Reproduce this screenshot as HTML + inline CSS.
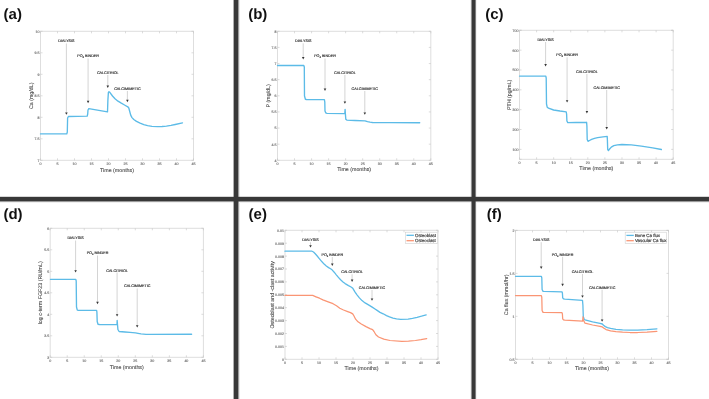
<!DOCTYPE html>
<html><head><meta charset="utf-8"><title>Figure</title>
<style>
html,body{margin:0;padding:0;background:#fff;width:709px;height:399px;overflow:hidden;}
svg{display:block;font-family:"Liberation Sans", sans-serif;will-change:transform;text-rendering:geometricPrecision;}
</style></head><body>
<svg width="709" height="399" viewBox="0 0 709 399" font-family="'Liberation Sans', sans-serif">
<rect x="0" y="0" width="709" height="399" fill="#ffffff"/>
<text x="3.6" y="18.9" font-size="15" text-anchor="start" fill="#111" font-weight="bold">(a)</text>
<rect x="40.5" y="31.3" width="153" height="129" fill="none" stroke="#dedede" stroke-width="1"/>
<line x1="40.5" y1="160.3" x2="40.5" y2="158.3" stroke="#c4c4c4" stroke-width="0.6"/>
<line x1="40.5" y1="31.3" x2="40.5" y2="33.3" stroke="#c4c4c4" stroke-width="0.6"/>
<text x="40.5" y="164.9" font-size="3.6" text-anchor="middle" fill="#7c7c7c" font-weight="normal" stroke="#7c7c7c" stroke-width="0.18">0</text>
<line x1="57.5" y1="160.3" x2="57.5" y2="158.3" stroke="#c4c4c4" stroke-width="0.6"/>
<line x1="57.5" y1="31.3" x2="57.5" y2="33.3" stroke="#c4c4c4" stroke-width="0.6"/>
<text x="57.5" y="164.9" font-size="3.6" text-anchor="middle" fill="#7c7c7c" font-weight="normal" stroke="#7c7c7c" stroke-width="0.18">5</text>
<line x1="74.5" y1="160.3" x2="74.5" y2="158.3" stroke="#c4c4c4" stroke-width="0.6"/>
<line x1="74.5" y1="31.3" x2="74.5" y2="33.3" stroke="#c4c4c4" stroke-width="0.6"/>
<text x="74.5" y="164.9" font-size="3.6" text-anchor="middle" fill="#7c7c7c" font-weight="normal" stroke="#7c7c7c" stroke-width="0.18">10</text>
<line x1="91.5" y1="160.3" x2="91.5" y2="158.3" stroke="#c4c4c4" stroke-width="0.6"/>
<line x1="91.5" y1="31.3" x2="91.5" y2="33.3" stroke="#c4c4c4" stroke-width="0.6"/>
<text x="91.5" y="164.9" font-size="3.6" text-anchor="middle" fill="#7c7c7c" font-weight="normal" stroke="#7c7c7c" stroke-width="0.18">15</text>
<line x1="108.5" y1="160.3" x2="108.5" y2="158.3" stroke="#c4c4c4" stroke-width="0.6"/>
<line x1="108.5" y1="31.3" x2="108.5" y2="33.3" stroke="#c4c4c4" stroke-width="0.6"/>
<text x="108.5" y="164.9" font-size="3.6" text-anchor="middle" fill="#7c7c7c" font-weight="normal" stroke="#7c7c7c" stroke-width="0.18">20</text>
<line x1="125.5" y1="160.3" x2="125.5" y2="158.3" stroke="#c4c4c4" stroke-width="0.6"/>
<line x1="125.5" y1="31.3" x2="125.5" y2="33.3" stroke="#c4c4c4" stroke-width="0.6"/>
<text x="125.5" y="164.9" font-size="3.6" text-anchor="middle" fill="#7c7c7c" font-weight="normal" stroke="#7c7c7c" stroke-width="0.18">25</text>
<line x1="142.5" y1="160.3" x2="142.5" y2="158.3" stroke="#c4c4c4" stroke-width="0.6"/>
<line x1="142.5" y1="31.3" x2="142.5" y2="33.3" stroke="#c4c4c4" stroke-width="0.6"/>
<text x="142.5" y="164.9" font-size="3.6" text-anchor="middle" fill="#7c7c7c" font-weight="normal" stroke="#7c7c7c" stroke-width="0.18">30</text>
<line x1="159.5" y1="160.3" x2="159.5" y2="158.3" stroke="#c4c4c4" stroke-width="0.6"/>
<line x1="159.5" y1="31.3" x2="159.5" y2="33.3" stroke="#c4c4c4" stroke-width="0.6"/>
<text x="159.5" y="164.9" font-size="3.6" text-anchor="middle" fill="#7c7c7c" font-weight="normal" stroke="#7c7c7c" stroke-width="0.18">35</text>
<line x1="176.5" y1="160.3" x2="176.5" y2="158.3" stroke="#c4c4c4" stroke-width="0.6"/>
<line x1="176.5" y1="31.3" x2="176.5" y2="33.3" stroke="#c4c4c4" stroke-width="0.6"/>
<text x="176.5" y="164.9" font-size="3.6" text-anchor="middle" fill="#7c7c7c" font-weight="normal" stroke="#7c7c7c" stroke-width="0.18">40</text>
<line x1="193.5" y1="160.3" x2="193.5" y2="158.3" stroke="#c4c4c4" stroke-width="0.6"/>
<line x1="193.5" y1="31.3" x2="193.5" y2="33.3" stroke="#c4c4c4" stroke-width="0.6"/>
<text x="193.5" y="164.9" font-size="3.6" text-anchor="middle" fill="#7c7c7c" font-weight="normal" stroke="#7c7c7c" stroke-width="0.18">45</text>
<line x1="40.5" y1="31.3" x2="42.5" y2="31.3" stroke="#c4c4c4" stroke-width="0.6"/>
<line x1="193.5" y1="31.3" x2="191.5" y2="31.3" stroke="#c4c4c4" stroke-width="0.6"/>
<text x="39.5" y="32.7" font-size="3.6" text-anchor="end" fill="#7c7c7c" font-weight="normal" stroke="#7c7c7c" stroke-width="0.18">10</text>
<line x1="40.5" y1="52.8" x2="42.5" y2="52.8" stroke="#c4c4c4" stroke-width="0.6"/>
<line x1="193.5" y1="52.8" x2="191.5" y2="52.8" stroke="#c4c4c4" stroke-width="0.6"/>
<text x="39.5" y="54.2" font-size="3.6" text-anchor="end" fill="#7c7c7c" font-weight="normal" stroke="#7c7c7c" stroke-width="0.18">9.5</text>
<line x1="40.5" y1="74.3" x2="42.5" y2="74.3" stroke="#c4c4c4" stroke-width="0.6"/>
<line x1="193.5" y1="74.3" x2="191.5" y2="74.3" stroke="#c4c4c4" stroke-width="0.6"/>
<text x="39.5" y="75.7" font-size="3.6" text-anchor="end" fill="#7c7c7c" font-weight="normal" stroke="#7c7c7c" stroke-width="0.18">9</text>
<line x1="40.5" y1="95.8" x2="42.5" y2="95.8" stroke="#c4c4c4" stroke-width="0.6"/>
<line x1="193.5" y1="95.8" x2="191.5" y2="95.8" stroke="#c4c4c4" stroke-width="0.6"/>
<text x="39.5" y="97.2" font-size="3.6" text-anchor="end" fill="#7c7c7c" font-weight="normal" stroke="#7c7c7c" stroke-width="0.18">8.5</text>
<line x1="40.5" y1="117.3" x2="42.5" y2="117.3" stroke="#c4c4c4" stroke-width="0.6"/>
<line x1="193.5" y1="117.3" x2="191.5" y2="117.3" stroke="#c4c4c4" stroke-width="0.6"/>
<text x="39.5" y="118.7" font-size="3.6" text-anchor="end" fill="#7c7c7c" font-weight="normal" stroke="#7c7c7c" stroke-width="0.18">8</text>
<line x1="40.5" y1="138.8" x2="42.5" y2="138.8" stroke="#c4c4c4" stroke-width="0.6"/>
<line x1="193.5" y1="138.8" x2="191.5" y2="138.8" stroke="#c4c4c4" stroke-width="0.6"/>
<text x="39.5" y="140.2" font-size="3.6" text-anchor="end" fill="#7c7c7c" font-weight="normal" stroke="#7c7c7c" stroke-width="0.18">7.5</text>
<line x1="40.5" y1="160.3" x2="42.5" y2="160.3" stroke="#c4c4c4" stroke-width="0.6"/>
<line x1="193.5" y1="160.3" x2="191.5" y2="160.3" stroke="#c4c4c4" stroke-width="0.6"/>
<text x="39.5" y="161.7" font-size="3.6" text-anchor="end" fill="#7c7c7c" font-weight="normal" stroke="#7c7c7c" stroke-width="0.18">7</text>
<text x="117" y="171.9" font-size="5.3" text-anchor="middle" fill="#404040" font-weight="normal" stroke="#404040" stroke-width="0.08">Time (months)</text>
<text x="33.2" y="95.8" font-size="5.3" text-anchor="middle" fill="#404040" font-weight="normal" transform="rotate(-90 33.2 95.8)" stroke="#404040" stroke-width="0.08">Ca (mg/dL)</text>
<polyline points="40.5,133.9 66.8,133.9 67.3,132 67.6,118 68.4,116.5 87.2,116.2 87.7,114 88,110 88.8,108.7 107.5,111.9 107.9,100 108.4,92.4 109,91.7 110,92.6 112.5,96 115,98.8 118,101.2 121.3,103.2 124.5,105 127.8,106.8 128.8,108 129.6,111 130.7,115.1 132,117.6 133.8,119.5 136.5,121.4 140.1,123.2 143.8,124.6 147.6,125.7 152,126.3 157.6,126.6 162,126.5 166.4,126.1 171,125.4 175.2,124.5 182.5,122.9" fill="none" stroke="#5cbbe7" stroke-width="1.35" stroke-linejoin="round" stroke-linecap="round"/>
<line x1="66.4" y1="43.5" x2="66.4" y2="113.2" stroke="#cfcfcf" stroke-width="0.9"/>
<polygon points="65.1,112.4 67.7,112.4 66.4,114.8" fill="#353535"/>
<text x="66.4" y="42.3" font-size="3.7" text-anchor="middle" fill="#3a3a3a" font-weight="normal" stroke="#3a3a3a" stroke-width="0.18">DIALYSIS</text>
<line x1="88.1" y1="58.5" x2="88.1" y2="101.6" stroke="#cfcfcf" stroke-width="0.9"/>
<polygon points="86.8,100.8 89.4,100.8 88.1,103.2" fill="#353535"/>
<text x="88.1" y="56.8" font-size="3.7" text-anchor="middle" fill="#3a3a3a" stroke="#3a3a3a" stroke-width="0.18">PO<tspan font-size="2.59" dy="1">4</tspan><tspan dy="-1"> BINDER</tspan></text>
<line x1="107.8" y1="75" x2="107.8" y2="86.4" stroke="#cfcfcf" stroke-width="0.9"/>
<polygon points="106.5,85.6 109.1,85.6 107.8,88" fill="#353535"/>
<text x="107.8" y="73.9" font-size="3.7" text-anchor="middle" fill="#3a3a3a" font-weight="normal" stroke="#3a3a3a" stroke-width="0.18">CALCITRIOL</text>
<line x1="127.4" y1="91" x2="127.4" y2="100.6" stroke="#cfcfcf" stroke-width="0.9"/>
<polygon points="126.1,99.8 128.7,99.8 127.4,102.2" fill="#353535"/>
<text x="127.4" y="89.5" font-size="3.7" text-anchor="middle" fill="#3a3a3a" font-weight="normal" stroke="#3a3a3a" stroke-width="0.18">CALCIMIMETIC</text>
<text x="248.2" y="18.9" font-size="15" text-anchor="start" fill="#111" font-weight="bold">(b)</text>
<rect x="277.5" y="31.3" width="153.3" height="129" fill="none" stroke="#dedede" stroke-width="1"/>
<line x1="277.5" y1="160.3" x2="277.5" y2="158.3" stroke="#c4c4c4" stroke-width="0.6"/>
<line x1="277.5" y1="31.3" x2="277.5" y2="33.3" stroke="#c4c4c4" stroke-width="0.6"/>
<text x="277.5" y="164.9" font-size="3.6" text-anchor="middle" fill="#7c7c7c" font-weight="normal" stroke="#7c7c7c" stroke-width="0.18">0</text>
<line x1="294.53" y1="160.3" x2="294.53" y2="158.3" stroke="#c4c4c4" stroke-width="0.6"/>
<line x1="294.53" y1="31.3" x2="294.53" y2="33.3" stroke="#c4c4c4" stroke-width="0.6"/>
<text x="294.53" y="164.9" font-size="3.6" text-anchor="middle" fill="#7c7c7c" font-weight="normal" stroke="#7c7c7c" stroke-width="0.18">5</text>
<line x1="311.57" y1="160.3" x2="311.57" y2="158.3" stroke="#c4c4c4" stroke-width="0.6"/>
<line x1="311.57" y1="31.3" x2="311.57" y2="33.3" stroke="#c4c4c4" stroke-width="0.6"/>
<text x="311.57" y="164.9" font-size="3.6" text-anchor="middle" fill="#7c7c7c" font-weight="normal" stroke="#7c7c7c" stroke-width="0.18">10</text>
<line x1="328.6" y1="160.3" x2="328.6" y2="158.3" stroke="#c4c4c4" stroke-width="0.6"/>
<line x1="328.6" y1="31.3" x2="328.6" y2="33.3" stroke="#c4c4c4" stroke-width="0.6"/>
<text x="328.6" y="164.9" font-size="3.6" text-anchor="middle" fill="#7c7c7c" font-weight="normal" stroke="#7c7c7c" stroke-width="0.18">15</text>
<line x1="345.63" y1="160.3" x2="345.63" y2="158.3" stroke="#c4c4c4" stroke-width="0.6"/>
<line x1="345.63" y1="31.3" x2="345.63" y2="33.3" stroke="#c4c4c4" stroke-width="0.6"/>
<text x="345.63" y="164.9" font-size="3.6" text-anchor="middle" fill="#7c7c7c" font-weight="normal" stroke="#7c7c7c" stroke-width="0.18">20</text>
<line x1="362.67" y1="160.3" x2="362.67" y2="158.3" stroke="#c4c4c4" stroke-width="0.6"/>
<line x1="362.67" y1="31.3" x2="362.67" y2="33.3" stroke="#c4c4c4" stroke-width="0.6"/>
<text x="362.67" y="164.9" font-size="3.6" text-anchor="middle" fill="#7c7c7c" font-weight="normal" stroke="#7c7c7c" stroke-width="0.18">25</text>
<line x1="379.7" y1="160.3" x2="379.7" y2="158.3" stroke="#c4c4c4" stroke-width="0.6"/>
<line x1="379.7" y1="31.3" x2="379.7" y2="33.3" stroke="#c4c4c4" stroke-width="0.6"/>
<text x="379.7" y="164.9" font-size="3.6" text-anchor="middle" fill="#7c7c7c" font-weight="normal" stroke="#7c7c7c" stroke-width="0.18">30</text>
<line x1="396.73" y1="160.3" x2="396.73" y2="158.3" stroke="#c4c4c4" stroke-width="0.6"/>
<line x1="396.73" y1="31.3" x2="396.73" y2="33.3" stroke="#c4c4c4" stroke-width="0.6"/>
<text x="396.73" y="164.9" font-size="3.6" text-anchor="middle" fill="#7c7c7c" font-weight="normal" stroke="#7c7c7c" stroke-width="0.18">35</text>
<line x1="413.77" y1="160.3" x2="413.77" y2="158.3" stroke="#c4c4c4" stroke-width="0.6"/>
<line x1="413.77" y1="31.3" x2="413.77" y2="33.3" stroke="#c4c4c4" stroke-width="0.6"/>
<text x="413.77" y="164.9" font-size="3.6" text-anchor="middle" fill="#7c7c7c" font-weight="normal" stroke="#7c7c7c" stroke-width="0.18">40</text>
<line x1="430.8" y1="160.3" x2="430.8" y2="158.3" stroke="#c4c4c4" stroke-width="0.6"/>
<line x1="430.8" y1="31.3" x2="430.8" y2="33.3" stroke="#c4c4c4" stroke-width="0.6"/>
<text x="430.8" y="164.9" font-size="3.6" text-anchor="middle" fill="#7c7c7c" font-weight="normal" stroke="#7c7c7c" stroke-width="0.18">45</text>
<line x1="277.5" y1="31.3" x2="279.5" y2="31.3" stroke="#c4c4c4" stroke-width="0.6"/>
<line x1="430.8" y1="31.3" x2="428.8" y2="31.3" stroke="#c4c4c4" stroke-width="0.6"/>
<text x="276.5" y="32.7" font-size="3.6" text-anchor="end" fill="#7c7c7c" font-weight="normal" stroke="#7c7c7c" stroke-width="0.18">8</text>
<line x1="277.5" y1="47.42" x2="279.5" y2="47.42" stroke="#c4c4c4" stroke-width="0.6"/>
<line x1="430.8" y1="47.42" x2="428.8" y2="47.42" stroke="#c4c4c4" stroke-width="0.6"/>
<text x="276.5" y="48.82" font-size="3.6" text-anchor="end" fill="#7c7c7c" font-weight="normal" stroke="#7c7c7c" stroke-width="0.18">7.5</text>
<line x1="277.5" y1="63.55" x2="279.5" y2="63.55" stroke="#c4c4c4" stroke-width="0.6"/>
<line x1="430.8" y1="63.55" x2="428.8" y2="63.55" stroke="#c4c4c4" stroke-width="0.6"/>
<text x="276.5" y="64.95" font-size="3.6" text-anchor="end" fill="#7c7c7c" font-weight="normal" stroke="#7c7c7c" stroke-width="0.18">7</text>
<line x1="277.5" y1="79.67" x2="279.5" y2="79.67" stroke="#c4c4c4" stroke-width="0.6"/>
<line x1="430.8" y1="79.67" x2="428.8" y2="79.67" stroke="#c4c4c4" stroke-width="0.6"/>
<text x="276.5" y="81.08" font-size="3.6" text-anchor="end" fill="#7c7c7c" font-weight="normal" stroke="#7c7c7c" stroke-width="0.18">6.5</text>
<line x1="277.5" y1="95.8" x2="279.5" y2="95.8" stroke="#c4c4c4" stroke-width="0.6"/>
<line x1="430.8" y1="95.8" x2="428.8" y2="95.8" stroke="#c4c4c4" stroke-width="0.6"/>
<text x="276.5" y="97.2" font-size="3.6" text-anchor="end" fill="#7c7c7c" font-weight="normal" stroke="#7c7c7c" stroke-width="0.18">6</text>
<line x1="277.5" y1="111.92" x2="279.5" y2="111.92" stroke="#c4c4c4" stroke-width="0.6"/>
<line x1="430.8" y1="111.92" x2="428.8" y2="111.92" stroke="#c4c4c4" stroke-width="0.6"/>
<text x="276.5" y="113.33" font-size="3.6" text-anchor="end" fill="#7c7c7c" font-weight="normal" stroke="#7c7c7c" stroke-width="0.18">5.5</text>
<line x1="277.5" y1="128.05" x2="279.5" y2="128.05" stroke="#c4c4c4" stroke-width="0.6"/>
<line x1="430.8" y1="128.05" x2="428.8" y2="128.05" stroke="#c4c4c4" stroke-width="0.6"/>
<text x="276.5" y="129.45" font-size="3.6" text-anchor="end" fill="#7c7c7c" font-weight="normal" stroke="#7c7c7c" stroke-width="0.18">5</text>
<line x1="277.5" y1="144.18" x2="279.5" y2="144.18" stroke="#c4c4c4" stroke-width="0.6"/>
<line x1="430.8" y1="144.18" x2="428.8" y2="144.18" stroke="#c4c4c4" stroke-width="0.6"/>
<text x="276.5" y="145.58" font-size="3.6" text-anchor="end" fill="#7c7c7c" font-weight="normal" stroke="#7c7c7c" stroke-width="0.18">4.5</text>
<line x1="277.5" y1="160.3" x2="279.5" y2="160.3" stroke="#c4c4c4" stroke-width="0.6"/>
<line x1="430.8" y1="160.3" x2="428.8" y2="160.3" stroke="#c4c4c4" stroke-width="0.6"/>
<text x="276.5" y="161.7" font-size="3.6" text-anchor="end" fill="#7c7c7c" font-weight="normal" stroke="#7c7c7c" stroke-width="0.18">4</text>
<text x="354.15" y="170.7" font-size="5.3" text-anchor="middle" fill="#404040" font-weight="normal" stroke="#404040" stroke-width="0.08">Time (months)</text>
<text x="270" y="95.8" font-size="5.3" text-anchor="middle" fill="#404040" font-weight="normal" transform="rotate(-90 270 95.8)" stroke="#404040" stroke-width="0.08">P (mg/dL)</text>
<polyline points="277.5,65.5 303.8,65.5 304.3,67 304.5,96 305.4,99.3 306.5,99.5 324.4,99.6 324.8,102 325,111 325.8,112.9 327,113.3 344.8,113.6 345.1,109.4 345.4,114 345.8,119.2 346.8,120.1 355,120.5 365,120.9 367.5,121.7 370,122.2 372.5,122.5 390,122.7 419.7,122.7" fill="none" stroke="#5cbbe7" stroke-width="1.35" stroke-linejoin="round" stroke-linecap="round"/>
<line x1="303.2" y1="43.3" x2="303.2" y2="57.9" stroke="#cfcfcf" stroke-width="0.9"/>
<polygon points="301.9,57.1 304.5,57.1 303.2,59.5" fill="#353535"/>
<text x="303.2" y="42.3" font-size="3.7" text-anchor="middle" fill="#3a3a3a" font-weight="normal" stroke="#3a3a3a" stroke-width="0.18">DIALYSIS</text>
<line x1="325" y1="58.5" x2="325" y2="89.4" stroke="#cfcfcf" stroke-width="0.9"/>
<polygon points="323.7,88.6 326.3,88.6 325,91" fill="#353535"/>
<text x="325" y="56.8" font-size="3.7" text-anchor="middle" fill="#3a3a3a" stroke="#3a3a3a" stroke-width="0.18">PO<tspan font-size="2.59" dy="1">4</tspan><tspan dy="-1"> BINDER</tspan></text>
<line x1="344.9" y1="75" x2="344.9" y2="102.2" stroke="#cfcfcf" stroke-width="0.9"/>
<polygon points="343.6,101.4 346.2,101.4 344.9,103.8" fill="#353535"/>
<text x="344.9" y="73.8" font-size="3.7" text-anchor="middle" fill="#3a3a3a" font-weight="normal" stroke="#3a3a3a" stroke-width="0.18">CALCITRIOL</text>
<line x1="364.8" y1="91" x2="364.8" y2="113.2" stroke="#cfcfcf" stroke-width="0.9"/>
<polygon points="363.5,112.4 366.1,112.4 364.8,114.8" fill="#353535"/>
<text x="364.8" y="89.9" font-size="3.7" text-anchor="middle" fill="#3a3a3a" font-weight="normal" stroke="#3a3a3a" stroke-width="0.18">CALCIMIMETIC</text>
<text x="485.2" y="18.9" font-size="15" text-anchor="start" fill="#111" font-weight="bold">(c)</text>
<rect x="519.5" y="30.3" width="153.7" height="129" fill="none" stroke="#dedede" stroke-width="1"/>
<line x1="519.5" y1="159.3" x2="519.5" y2="157.3" stroke="#c4c4c4" stroke-width="0.6"/>
<line x1="519.5" y1="30.3" x2="519.5" y2="32.3" stroke="#c4c4c4" stroke-width="0.6"/>
<text x="519.5" y="163.9" font-size="3.6" text-anchor="middle" fill="#7c7c7c" font-weight="normal" stroke="#7c7c7c" stroke-width="0.18">0</text>
<line x1="536.58" y1="159.3" x2="536.58" y2="157.3" stroke="#c4c4c4" stroke-width="0.6"/>
<line x1="536.58" y1="30.3" x2="536.58" y2="32.3" stroke="#c4c4c4" stroke-width="0.6"/>
<text x="536.58" y="163.9" font-size="3.6" text-anchor="middle" fill="#7c7c7c" font-weight="normal" stroke="#7c7c7c" stroke-width="0.18">5</text>
<line x1="553.66" y1="159.3" x2="553.66" y2="157.3" stroke="#c4c4c4" stroke-width="0.6"/>
<line x1="553.66" y1="30.3" x2="553.66" y2="32.3" stroke="#c4c4c4" stroke-width="0.6"/>
<text x="553.66" y="163.9" font-size="3.6" text-anchor="middle" fill="#7c7c7c" font-weight="normal" stroke="#7c7c7c" stroke-width="0.18">10</text>
<line x1="570.73" y1="159.3" x2="570.73" y2="157.3" stroke="#c4c4c4" stroke-width="0.6"/>
<line x1="570.73" y1="30.3" x2="570.73" y2="32.3" stroke="#c4c4c4" stroke-width="0.6"/>
<text x="570.73" y="163.9" font-size="3.6" text-anchor="middle" fill="#7c7c7c" font-weight="normal" stroke="#7c7c7c" stroke-width="0.18">15</text>
<line x1="587.81" y1="159.3" x2="587.81" y2="157.3" stroke="#c4c4c4" stroke-width="0.6"/>
<line x1="587.81" y1="30.3" x2="587.81" y2="32.3" stroke="#c4c4c4" stroke-width="0.6"/>
<text x="587.81" y="163.9" font-size="3.6" text-anchor="middle" fill="#7c7c7c" font-weight="normal" stroke="#7c7c7c" stroke-width="0.18">20</text>
<line x1="604.89" y1="159.3" x2="604.89" y2="157.3" stroke="#c4c4c4" stroke-width="0.6"/>
<line x1="604.89" y1="30.3" x2="604.89" y2="32.3" stroke="#c4c4c4" stroke-width="0.6"/>
<text x="604.89" y="163.9" font-size="3.6" text-anchor="middle" fill="#7c7c7c" font-weight="normal" stroke="#7c7c7c" stroke-width="0.18">25</text>
<line x1="621.97" y1="159.3" x2="621.97" y2="157.3" stroke="#c4c4c4" stroke-width="0.6"/>
<line x1="621.97" y1="30.3" x2="621.97" y2="32.3" stroke="#c4c4c4" stroke-width="0.6"/>
<text x="621.97" y="163.9" font-size="3.6" text-anchor="middle" fill="#7c7c7c" font-weight="normal" stroke="#7c7c7c" stroke-width="0.18">30</text>
<line x1="639.04" y1="159.3" x2="639.04" y2="157.3" stroke="#c4c4c4" stroke-width="0.6"/>
<line x1="639.04" y1="30.3" x2="639.04" y2="32.3" stroke="#c4c4c4" stroke-width="0.6"/>
<text x="639.04" y="163.9" font-size="3.6" text-anchor="middle" fill="#7c7c7c" font-weight="normal" stroke="#7c7c7c" stroke-width="0.18">35</text>
<line x1="656.12" y1="159.3" x2="656.12" y2="157.3" stroke="#c4c4c4" stroke-width="0.6"/>
<line x1="656.12" y1="30.3" x2="656.12" y2="32.3" stroke="#c4c4c4" stroke-width="0.6"/>
<text x="656.12" y="163.9" font-size="3.6" text-anchor="middle" fill="#7c7c7c" font-weight="normal" stroke="#7c7c7c" stroke-width="0.18">40</text>
<line x1="673.2" y1="159.3" x2="673.2" y2="157.3" stroke="#c4c4c4" stroke-width="0.6"/>
<line x1="673.2" y1="30.3" x2="673.2" y2="32.3" stroke="#c4c4c4" stroke-width="0.6"/>
<text x="673.2" y="163.9" font-size="3.6" text-anchor="middle" fill="#7c7c7c" font-weight="normal" stroke="#7c7c7c" stroke-width="0.18">45</text>
<line x1="519.5" y1="30.3" x2="521.5" y2="30.3" stroke="#c4c4c4" stroke-width="0.6"/>
<line x1="673.2" y1="30.3" x2="671.2" y2="30.3" stroke="#c4c4c4" stroke-width="0.6"/>
<text x="518.5" y="31.7" font-size="3.6" text-anchor="end" fill="#7c7c7c" font-weight="normal" stroke="#7c7c7c" stroke-width="0.18"></text>
<line x1="519.5" y1="159.3" x2="521.5" y2="159.3" stroke="#c4c4c4" stroke-width="0.6"/>
<line x1="673.2" y1="159.3" x2="671.2" y2="159.3" stroke="#c4c4c4" stroke-width="0.6"/>
<text x="518.5" y="160.7" font-size="3.6" text-anchor="end" fill="#7c7c7c" font-weight="normal" stroke="#7c7c7c" stroke-width="0.18"></text>
<text x="596.35" y="170" font-size="5.3" text-anchor="middle" fill="#404040" font-weight="normal" stroke="#404040" stroke-width="0.08">Time (months)</text>
<text x="510.8" y="94.8" font-size="5.3" text-anchor="middle" fill="#404040" font-weight="normal" transform="rotate(-90 510.8 94.8)" stroke="#404040" stroke-width="0.08">PTH (pg/mL)</text>
<polyline points="519.5,76.1 545.8,76.1 546.2,78 546.5,104 547.2,107.2 548.5,108.1 553.6,110 560,111 566.2,111.8 566.6,114 566.9,121 567.8,122.6 576,122.5 586.6,122.3 586.9,126 587.2,139.5 588,141.3 589.5,140.5 591.6,139.4 594.5,138.4 597.6,137.6 603,136.8 607.2,136.4 607.4,140 607.7,149.5 608.4,150.6 609.6,149 611.3,147.1 613.8,145.7 617.5,144.9 621.9,144.5 631.3,144.8 641.4,146.1 652.7,147.8 661.4,149.5" fill="none" stroke="#5cbbe7" stroke-width="1.35" stroke-linejoin="round" stroke-linecap="round"/>
<line x1="545.6" y1="42" x2="545.6" y2="64.9" stroke="#cfcfcf" stroke-width="0.9"/>
<polygon points="544.3,64.1 546.9,64.1 545.6,66.5" fill="#353535"/>
<text x="545.6" y="41.1" font-size="3.7" text-anchor="middle" fill="#3a3a3a" font-weight="normal" stroke="#3a3a3a" stroke-width="0.18">DIALYSIS</text>
<line x1="567.1" y1="57.3" x2="567.1" y2="101" stroke="#cfcfcf" stroke-width="0.9"/>
<polygon points="565.8,100.2 568.4,100.2 567.1,102.6" fill="#353535"/>
<text x="567.1" y="55.6" font-size="3.7" text-anchor="middle" fill="#3a3a3a" stroke="#3a3a3a" stroke-width="0.18">PO<tspan font-size="2.59" dy="1">4</tspan><tspan dy="-1"> BINDER</tspan></text>
<line x1="586.9" y1="74" x2="586.9" y2="111.9" stroke="#cfcfcf" stroke-width="0.9"/>
<polygon points="585.6,111.1 588.2,111.1 586.9,113.5" fill="#353535"/>
<text x="586.9" y="72.9" font-size="3.7" text-anchor="middle" fill="#3a3a3a" font-weight="normal" stroke="#3a3a3a" stroke-width="0.18">CALCITRIOL</text>
<line x1="606.7" y1="90" x2="606.7" y2="127.8" stroke="#cfcfcf" stroke-width="0.9"/>
<polygon points="605.4,127 608,127 606.7,129.4" fill="#353535"/>
<text x="606.7" y="88.5" font-size="3.7" text-anchor="middle" fill="#3a3a3a" font-weight="normal" stroke="#3a3a3a" stroke-width="0.18">CALCIMIMETIC</text>
<line x1="519.5" y1="30.3" x2="521.5" y2="30.3" stroke="#c4c4c4" stroke-width="0.6"/>
<line x1="673.2" y1="30.3" x2="671.2" y2="30.3" stroke="#c4c4c4" stroke-width="0.6"/>
<text x="518.5" y="31.7" font-size="3.6" text-anchor="end" fill="#7c7c7c" font-weight="normal" stroke="#7c7c7c" stroke-width="0.18">700</text>
<line x1="519.5" y1="50.15" x2="521.5" y2="50.15" stroke="#c4c4c4" stroke-width="0.6"/>
<line x1="673.2" y1="50.15" x2="671.2" y2="50.15" stroke="#c4c4c4" stroke-width="0.6"/>
<text x="518.5" y="51.55" font-size="3.6" text-anchor="end" fill="#7c7c7c" font-weight="normal" stroke="#7c7c7c" stroke-width="0.18">600</text>
<line x1="519.5" y1="69.99" x2="521.5" y2="69.99" stroke="#c4c4c4" stroke-width="0.6"/>
<line x1="673.2" y1="69.99" x2="671.2" y2="69.99" stroke="#c4c4c4" stroke-width="0.6"/>
<text x="518.5" y="71.39" font-size="3.6" text-anchor="end" fill="#7c7c7c" font-weight="normal" stroke="#7c7c7c" stroke-width="0.18">500</text>
<line x1="519.5" y1="89.84" x2="521.5" y2="89.84" stroke="#c4c4c4" stroke-width="0.6"/>
<line x1="673.2" y1="89.84" x2="671.2" y2="89.84" stroke="#c4c4c4" stroke-width="0.6"/>
<text x="518.5" y="91.24" font-size="3.6" text-anchor="end" fill="#7c7c7c" font-weight="normal" stroke="#7c7c7c" stroke-width="0.18">400</text>
<line x1="519.5" y1="109.68" x2="521.5" y2="109.68" stroke="#c4c4c4" stroke-width="0.6"/>
<line x1="673.2" y1="109.68" x2="671.2" y2="109.68" stroke="#c4c4c4" stroke-width="0.6"/>
<text x="518.5" y="111.08" font-size="3.6" text-anchor="end" fill="#7c7c7c" font-weight="normal" stroke="#7c7c7c" stroke-width="0.18">300</text>
<line x1="519.5" y1="129.53" x2="521.5" y2="129.53" stroke="#c4c4c4" stroke-width="0.6"/>
<line x1="673.2" y1="129.53" x2="671.2" y2="129.53" stroke="#c4c4c4" stroke-width="0.6"/>
<text x="518.5" y="130.93" font-size="3.6" text-anchor="end" fill="#7c7c7c" font-weight="normal" stroke="#7c7c7c" stroke-width="0.18">200</text>
<line x1="519.5" y1="149.38" x2="521.5" y2="149.38" stroke="#c4c4c4" stroke-width="0.6"/>
<line x1="673.2" y1="149.38" x2="671.2" y2="149.38" stroke="#c4c4c4" stroke-width="0.6"/>
<text x="518.5" y="150.78" font-size="3.6" text-anchor="end" fill="#7c7c7c" font-weight="normal" stroke="#7c7c7c" stroke-width="0.18">100</text>
<text x="3.4" y="218.9" font-size="15" text-anchor="start" fill="#111" font-weight="bold">(d)</text>
<rect x="50.2" y="228.3" width="153.2" height="129" fill="none" stroke="#dedede" stroke-width="1"/>
<line x1="50.2" y1="357.3" x2="50.2" y2="355.3" stroke="#c4c4c4" stroke-width="0.6"/>
<line x1="50.2" y1="228.3" x2="50.2" y2="230.3" stroke="#c4c4c4" stroke-width="0.6"/>
<text x="50.2" y="361.9" font-size="3.6" text-anchor="middle" fill="#7c7c7c" font-weight="normal" stroke="#7c7c7c" stroke-width="0.18">0</text>
<line x1="67.22" y1="357.3" x2="67.22" y2="355.3" stroke="#c4c4c4" stroke-width="0.6"/>
<line x1="67.22" y1="228.3" x2="67.22" y2="230.3" stroke="#c4c4c4" stroke-width="0.6"/>
<text x="67.22" y="361.9" font-size="3.6" text-anchor="middle" fill="#7c7c7c" font-weight="normal" stroke="#7c7c7c" stroke-width="0.18">5</text>
<line x1="84.24" y1="357.3" x2="84.24" y2="355.3" stroke="#c4c4c4" stroke-width="0.6"/>
<line x1="84.24" y1="228.3" x2="84.24" y2="230.3" stroke="#c4c4c4" stroke-width="0.6"/>
<text x="84.24" y="361.9" font-size="3.6" text-anchor="middle" fill="#7c7c7c" font-weight="normal" stroke="#7c7c7c" stroke-width="0.18">10</text>
<line x1="101.27" y1="357.3" x2="101.27" y2="355.3" stroke="#c4c4c4" stroke-width="0.6"/>
<line x1="101.27" y1="228.3" x2="101.27" y2="230.3" stroke="#c4c4c4" stroke-width="0.6"/>
<text x="101.27" y="361.9" font-size="3.6" text-anchor="middle" fill="#7c7c7c" font-weight="normal" stroke="#7c7c7c" stroke-width="0.18">15</text>
<line x1="118.29" y1="357.3" x2="118.29" y2="355.3" stroke="#c4c4c4" stroke-width="0.6"/>
<line x1="118.29" y1="228.3" x2="118.29" y2="230.3" stroke="#c4c4c4" stroke-width="0.6"/>
<text x="118.29" y="361.9" font-size="3.6" text-anchor="middle" fill="#7c7c7c" font-weight="normal" stroke="#7c7c7c" stroke-width="0.18">20</text>
<line x1="135.31" y1="357.3" x2="135.31" y2="355.3" stroke="#c4c4c4" stroke-width="0.6"/>
<line x1="135.31" y1="228.3" x2="135.31" y2="230.3" stroke="#c4c4c4" stroke-width="0.6"/>
<text x="135.31" y="361.9" font-size="3.6" text-anchor="middle" fill="#7c7c7c" font-weight="normal" stroke="#7c7c7c" stroke-width="0.18">25</text>
<line x1="152.33" y1="357.3" x2="152.33" y2="355.3" stroke="#c4c4c4" stroke-width="0.6"/>
<line x1="152.33" y1="228.3" x2="152.33" y2="230.3" stroke="#c4c4c4" stroke-width="0.6"/>
<text x="152.33" y="361.9" font-size="3.6" text-anchor="middle" fill="#7c7c7c" font-weight="normal" stroke="#7c7c7c" stroke-width="0.18">30</text>
<line x1="169.36" y1="357.3" x2="169.36" y2="355.3" stroke="#c4c4c4" stroke-width="0.6"/>
<line x1="169.36" y1="228.3" x2="169.36" y2="230.3" stroke="#c4c4c4" stroke-width="0.6"/>
<text x="169.36" y="361.9" font-size="3.6" text-anchor="middle" fill="#7c7c7c" font-weight="normal" stroke="#7c7c7c" stroke-width="0.18">35</text>
<line x1="186.38" y1="357.3" x2="186.38" y2="355.3" stroke="#c4c4c4" stroke-width="0.6"/>
<line x1="186.38" y1="228.3" x2="186.38" y2="230.3" stroke="#c4c4c4" stroke-width="0.6"/>
<text x="186.38" y="361.9" font-size="3.6" text-anchor="middle" fill="#7c7c7c" font-weight="normal" stroke="#7c7c7c" stroke-width="0.18">40</text>
<line x1="203.4" y1="357.3" x2="203.4" y2="355.3" stroke="#c4c4c4" stroke-width="0.6"/>
<line x1="203.4" y1="228.3" x2="203.4" y2="230.3" stroke="#c4c4c4" stroke-width="0.6"/>
<text x="203.4" y="361.9" font-size="3.6" text-anchor="middle" fill="#7c7c7c" font-weight="normal" stroke="#7c7c7c" stroke-width="0.18">45</text>
<line x1="50.2" y1="228.3" x2="52.2" y2="228.3" stroke="#c4c4c4" stroke-width="0.6"/>
<line x1="203.4" y1="228.3" x2="201.4" y2="228.3" stroke="#c4c4c4" stroke-width="0.6"/>
<text x="49.2" y="229.7" font-size="3.6" text-anchor="end" fill="#7c7c7c" font-weight="normal" stroke="#7c7c7c" stroke-width="0.18">6</text>
<line x1="50.2" y1="249.8" x2="52.2" y2="249.8" stroke="#c4c4c4" stroke-width="0.6"/>
<line x1="203.4" y1="249.8" x2="201.4" y2="249.8" stroke="#c4c4c4" stroke-width="0.6"/>
<text x="49.2" y="251.2" font-size="3.6" text-anchor="end" fill="#7c7c7c" font-weight="normal" stroke="#7c7c7c" stroke-width="0.18">5.5</text>
<line x1="50.2" y1="271.3" x2="52.2" y2="271.3" stroke="#c4c4c4" stroke-width="0.6"/>
<line x1="203.4" y1="271.3" x2="201.4" y2="271.3" stroke="#c4c4c4" stroke-width="0.6"/>
<text x="49.2" y="272.7" font-size="3.6" text-anchor="end" fill="#7c7c7c" font-weight="normal" stroke="#7c7c7c" stroke-width="0.18">5</text>
<line x1="50.2" y1="292.8" x2="52.2" y2="292.8" stroke="#c4c4c4" stroke-width="0.6"/>
<line x1="203.4" y1="292.8" x2="201.4" y2="292.8" stroke="#c4c4c4" stroke-width="0.6"/>
<text x="49.2" y="294.2" font-size="3.6" text-anchor="end" fill="#7c7c7c" font-weight="normal" stroke="#7c7c7c" stroke-width="0.18">4.5</text>
<line x1="50.2" y1="314.3" x2="52.2" y2="314.3" stroke="#c4c4c4" stroke-width="0.6"/>
<line x1="203.4" y1="314.3" x2="201.4" y2="314.3" stroke="#c4c4c4" stroke-width="0.6"/>
<text x="49.2" y="315.7" font-size="3.6" text-anchor="end" fill="#7c7c7c" font-weight="normal" stroke="#7c7c7c" stroke-width="0.18">4</text>
<line x1="50.2" y1="335.8" x2="52.2" y2="335.8" stroke="#c4c4c4" stroke-width="0.6"/>
<line x1="203.4" y1="335.8" x2="201.4" y2="335.8" stroke="#c4c4c4" stroke-width="0.6"/>
<text x="49.2" y="337.2" font-size="3.6" text-anchor="end" fill="#7c7c7c" font-weight="normal" stroke="#7c7c7c" stroke-width="0.18">3.5</text>
<line x1="50.2" y1="357.3" x2="52.2" y2="357.3" stroke="#c4c4c4" stroke-width="0.6"/>
<line x1="203.4" y1="357.3" x2="201.4" y2="357.3" stroke="#c4c4c4" stroke-width="0.6"/>
<text x="49.2" y="358.7" font-size="3.6" text-anchor="end" fill="#7c7c7c" font-weight="normal" stroke="#7c7c7c" stroke-width="0.18">3</text>
<text x="126.8" y="368.6" font-size="5.3" text-anchor="middle" fill="#404040" font-weight="normal" stroke="#404040" stroke-width="0.08">Time (months)</text>
<text x="42.3" y="292.8" font-size="5.3" text-anchor="middle" fill="#404040" font-weight="normal" transform="rotate(-90 42.3 292.8)" stroke="#404040" stroke-width="0.08">log c-term FGF23 (RU/mL)</text>
<polyline points="50.5,279.4 75.8,279.4 76.2,281 76.5,307 77.3,310.2 78.5,310.4 96.6,310.4 96.9,312 97.2,321.5 98,324.3 99.5,324.5 117,324.7 117.15,320.4 117.4,323.5 117.9,329.5 119.1,331.5 125,332 130,332.4 135.5,332.8 138,333.3 141,333.9 146,334.3 150,334.4 191.6,334.2" fill="none" stroke="#5cbbe7" stroke-width="1.35" stroke-linejoin="round" stroke-linecap="round"/>
<line x1="75.6" y1="240.5" x2="75.6" y2="271" stroke="#cfcfcf" stroke-width="0.9"/>
<polygon points="74.3,270.2 76.9,270.2 75.6,272.6" fill="#353535"/>
<text x="75.6" y="239.3" font-size="3.7" text-anchor="middle" fill="#3a3a3a" font-weight="normal" stroke="#3a3a3a" stroke-width="0.18">DIALYSIS</text>
<line x1="97.5" y1="255.5" x2="97.5" y2="302.6" stroke="#cfcfcf" stroke-width="0.9"/>
<polygon points="96.2,301.8 98.8,301.8 97.5,304.2" fill="#353535"/>
<text x="97.5" y="254.1" font-size="3.7" text-anchor="middle" fill="#3a3a3a" stroke="#3a3a3a" stroke-width="0.18">PO<tspan font-size="2.59" dy="1">4</tspan><tspan dy="-1"> BINDER</tspan></text>
<line x1="117.1" y1="272.5" x2="117.1" y2="315" stroke="#cfcfcf" stroke-width="0.9"/>
<polygon points="115.8,314.2 118.4,314.2 117.1,316.6" fill="#353535"/>
<text x="117.1" y="271.5" font-size="3.7" text-anchor="middle" fill="#3a3a3a" font-weight="normal" stroke="#3a3a3a" stroke-width="0.18">CALCITRIOL</text>
<line x1="137.2" y1="288.5" x2="137.2" y2="326" stroke="#cfcfcf" stroke-width="0.9"/>
<polygon points="135.9,325.2 138.5,325.2 137.2,327.6" fill="#353535"/>
<text x="137.2" y="287.2" font-size="3.7" text-anchor="middle" fill="#3a3a3a" font-weight="normal" stroke="#3a3a3a" stroke-width="0.18">CALCIMIMETIC</text>
<text x="248.6" y="218.9" font-size="15" text-anchor="start" fill="#111" font-weight="bold">(e)</text>
<rect x="285" y="230.3" width="153" height="129" fill="none" stroke="#dedede" stroke-width="1"/>
<line x1="285" y1="359.3" x2="285" y2="357.3" stroke="#c4c4c4" stroke-width="0.6"/>
<line x1="285" y1="230.3" x2="285" y2="232.3" stroke="#c4c4c4" stroke-width="0.6"/>
<text x="285" y="363.9" font-size="3.6" text-anchor="middle" fill="#7c7c7c" font-weight="normal" stroke="#7c7c7c" stroke-width="0.18">0</text>
<line x1="302" y1="359.3" x2="302" y2="357.3" stroke="#c4c4c4" stroke-width="0.6"/>
<line x1="302" y1="230.3" x2="302" y2="232.3" stroke="#c4c4c4" stroke-width="0.6"/>
<text x="302" y="363.9" font-size="3.6" text-anchor="middle" fill="#7c7c7c" font-weight="normal" stroke="#7c7c7c" stroke-width="0.18">5</text>
<line x1="319" y1="359.3" x2="319" y2="357.3" stroke="#c4c4c4" stroke-width="0.6"/>
<line x1="319" y1="230.3" x2="319" y2="232.3" stroke="#c4c4c4" stroke-width="0.6"/>
<text x="319" y="363.9" font-size="3.6" text-anchor="middle" fill="#7c7c7c" font-weight="normal" stroke="#7c7c7c" stroke-width="0.18">10</text>
<line x1="336" y1="359.3" x2="336" y2="357.3" stroke="#c4c4c4" stroke-width="0.6"/>
<line x1="336" y1="230.3" x2="336" y2="232.3" stroke="#c4c4c4" stroke-width="0.6"/>
<text x="336" y="363.9" font-size="3.6" text-anchor="middle" fill="#7c7c7c" font-weight="normal" stroke="#7c7c7c" stroke-width="0.18">15</text>
<line x1="353" y1="359.3" x2="353" y2="357.3" stroke="#c4c4c4" stroke-width="0.6"/>
<line x1="353" y1="230.3" x2="353" y2="232.3" stroke="#c4c4c4" stroke-width="0.6"/>
<text x="353" y="363.9" font-size="3.6" text-anchor="middle" fill="#7c7c7c" font-weight="normal" stroke="#7c7c7c" stroke-width="0.18">20</text>
<line x1="370" y1="359.3" x2="370" y2="357.3" stroke="#c4c4c4" stroke-width="0.6"/>
<line x1="370" y1="230.3" x2="370" y2="232.3" stroke="#c4c4c4" stroke-width="0.6"/>
<text x="370" y="363.9" font-size="3.6" text-anchor="middle" fill="#7c7c7c" font-weight="normal" stroke="#7c7c7c" stroke-width="0.18">25</text>
<line x1="387" y1="359.3" x2="387" y2="357.3" stroke="#c4c4c4" stroke-width="0.6"/>
<line x1="387" y1="230.3" x2="387" y2="232.3" stroke="#c4c4c4" stroke-width="0.6"/>
<text x="387" y="363.9" font-size="3.6" text-anchor="middle" fill="#7c7c7c" font-weight="normal" stroke="#7c7c7c" stroke-width="0.18">30</text>
<line x1="404" y1="359.3" x2="404" y2="357.3" stroke="#c4c4c4" stroke-width="0.6"/>
<line x1="404" y1="230.3" x2="404" y2="232.3" stroke="#c4c4c4" stroke-width="0.6"/>
<text x="404" y="363.9" font-size="3.6" text-anchor="middle" fill="#7c7c7c" font-weight="normal" stroke="#7c7c7c" stroke-width="0.18">35</text>
<line x1="421" y1="359.3" x2="421" y2="357.3" stroke="#c4c4c4" stroke-width="0.6"/>
<line x1="421" y1="230.3" x2="421" y2="232.3" stroke="#c4c4c4" stroke-width="0.6"/>
<text x="421" y="363.9" font-size="3.6" text-anchor="middle" fill="#7c7c7c" font-weight="normal" stroke="#7c7c7c" stroke-width="0.18">40</text>
<line x1="438" y1="359.3" x2="438" y2="357.3" stroke="#c4c4c4" stroke-width="0.6"/>
<line x1="438" y1="230.3" x2="438" y2="232.3" stroke="#c4c4c4" stroke-width="0.6"/>
<text x="438" y="363.9" font-size="3.6" text-anchor="middle" fill="#7c7c7c" font-weight="normal" stroke="#7c7c7c" stroke-width="0.18">45</text>
<line x1="285" y1="230.3" x2="287" y2="230.3" stroke="#c4c4c4" stroke-width="0.6"/>
<line x1="438" y1="230.3" x2="436" y2="230.3" stroke="#c4c4c4" stroke-width="0.6"/>
<text x="284" y="231.7" font-size="3.6" text-anchor="end" fill="#7c7c7c" font-weight="normal" stroke="#7c7c7c" stroke-width="0.18">0.01</text>
<line x1="285" y1="243.2" x2="287" y2="243.2" stroke="#c4c4c4" stroke-width="0.6"/>
<line x1="438" y1="243.2" x2="436" y2="243.2" stroke="#c4c4c4" stroke-width="0.6"/>
<text x="284" y="244.6" font-size="3.6" text-anchor="end" fill="#7c7c7c" font-weight="normal" stroke="#7c7c7c" stroke-width="0.18">0.009</text>
<line x1="285" y1="256.1" x2="287" y2="256.1" stroke="#c4c4c4" stroke-width="0.6"/>
<line x1="438" y1="256.1" x2="436" y2="256.1" stroke="#c4c4c4" stroke-width="0.6"/>
<text x="284" y="257.5" font-size="3.6" text-anchor="end" fill="#7c7c7c" font-weight="normal" stroke="#7c7c7c" stroke-width="0.18">0.008</text>
<line x1="285" y1="269" x2="287" y2="269" stroke="#c4c4c4" stroke-width="0.6"/>
<line x1="438" y1="269" x2="436" y2="269" stroke="#c4c4c4" stroke-width="0.6"/>
<text x="284" y="270.4" font-size="3.6" text-anchor="end" fill="#7c7c7c" font-weight="normal" stroke="#7c7c7c" stroke-width="0.18">0.007</text>
<line x1="285" y1="281.9" x2="287" y2="281.9" stroke="#c4c4c4" stroke-width="0.6"/>
<line x1="438" y1="281.9" x2="436" y2="281.9" stroke="#c4c4c4" stroke-width="0.6"/>
<text x="284" y="283.3" font-size="3.6" text-anchor="end" fill="#7c7c7c" font-weight="normal" stroke="#7c7c7c" stroke-width="0.18">0.006</text>
<line x1="285" y1="294.8" x2="287" y2="294.8" stroke="#c4c4c4" stroke-width="0.6"/>
<line x1="438" y1="294.8" x2="436" y2="294.8" stroke="#c4c4c4" stroke-width="0.6"/>
<text x="284" y="296.2" font-size="3.6" text-anchor="end" fill="#7c7c7c" font-weight="normal" stroke="#7c7c7c" stroke-width="0.18">0.005</text>
<line x1="285" y1="307.7" x2="287" y2="307.7" stroke="#c4c4c4" stroke-width="0.6"/>
<line x1="438" y1="307.7" x2="436" y2="307.7" stroke="#c4c4c4" stroke-width="0.6"/>
<text x="284" y="309.1" font-size="3.6" text-anchor="end" fill="#7c7c7c" font-weight="normal" stroke="#7c7c7c" stroke-width="0.18">0.004</text>
<line x1="285" y1="320.6" x2="287" y2="320.6" stroke="#c4c4c4" stroke-width="0.6"/>
<line x1="438" y1="320.6" x2="436" y2="320.6" stroke="#c4c4c4" stroke-width="0.6"/>
<text x="284" y="322" font-size="3.6" text-anchor="end" fill="#7c7c7c" font-weight="normal" stroke="#7c7c7c" stroke-width="0.18">0.003</text>
<line x1="285" y1="333.5" x2="287" y2="333.5" stroke="#c4c4c4" stroke-width="0.6"/>
<line x1="438" y1="333.5" x2="436" y2="333.5" stroke="#c4c4c4" stroke-width="0.6"/>
<text x="284" y="334.9" font-size="3.6" text-anchor="end" fill="#7c7c7c" font-weight="normal" stroke="#7c7c7c" stroke-width="0.18">0.002</text>
<line x1="285" y1="346.4" x2="287" y2="346.4" stroke="#c4c4c4" stroke-width="0.6"/>
<line x1="438" y1="346.4" x2="436" y2="346.4" stroke="#c4c4c4" stroke-width="0.6"/>
<text x="284" y="347.8" font-size="3.6" text-anchor="end" fill="#7c7c7c" font-weight="normal" stroke="#7c7c7c" stroke-width="0.18">0.001</text>
<line x1="285" y1="359.3" x2="287" y2="359.3" stroke="#c4c4c4" stroke-width="0.6"/>
<line x1="438" y1="359.3" x2="436" y2="359.3" stroke="#c4c4c4" stroke-width="0.6"/>
<text x="284" y="360.7" font-size="3.6" text-anchor="end" fill="#7c7c7c" font-weight="normal" stroke="#7c7c7c" stroke-width="0.18">0</text>
<text x="361.5" y="370.3" font-size="5.3" text-anchor="middle" fill="#404040" font-weight="normal" stroke="#404040" stroke-width="0.08">Time (months)</text>
<text x="273.8" y="294.8" font-size="5.3" text-anchor="middle" fill="#404040" font-weight="normal" transform="rotate(-90 273.8 294.8)" stroke="#404040" stroke-width="0.08">Osteoblast and -clast activity</text>
<polyline points="285,251.2 312,251.2 313.5,252 315,253.5 317.2,256 319.5,258.8 322,261.8 324.1,264.1 326.3,266 328.6,267.6 330.6,268.8 332.3,270.1 334.2,272.2 336.1,274.6 338.4,277.3 340.6,279.8 343,282 345.1,283.6 348.5,285.6 351.5,287.2 353,288.6 354.9,291.9 357,294.8 359.4,297.9 362,300.6 365.1,302.9 368.5,304.9 372.6,307.4 375,309 377.1,310.4 380,312.4 383.2,313.8 386.5,315.6 389.5,316.9 393,318.1 396.5,318.9 400.6,319.3 408.1,319.1 412.5,318.3 417.1,317.3 421.5,316.2 426.2,314.9" fill="none" stroke="#5cbbe7" stroke-width="1.3" stroke-linejoin="round" stroke-linecap="round"/>
<polyline points="285,295.4 312.7,295.4 316,296.8 319.5,298.2 322.9,299.9 327.5,301.6 333,303.7 336.5,305.7 339.8,308.2 343.5,310 347.7,311.6 350.5,312.6 352.7,313.9 354,316 355.6,319.2 358,321.8 361.3,324 366,326.6 370,328.6 372.6,329.7 374,331.5 375.9,334.8 378.5,337 383.8,339.1 390,340.5 401.9,341.4 408.5,341.2 415.4,340.5 421,339.7 426.7,338.7" fill="none" stroke="#fa9574" stroke-width="1.25" stroke-linejoin="round" stroke-linecap="round"/>
<line x1="310.5" y1="242.3" x2="310.5" y2="246" stroke="#cfcfcf" stroke-width="0.9"/>
<polygon points="309.2,245.2 311.8,245.2 310.5,247.6" fill="#353535"/>
<text x="310.5" y="241.1" font-size="3.7" text-anchor="middle" fill="#3a3a3a" font-weight="normal" stroke="#3a3a3a" stroke-width="0.18">DIALYSIS</text>
<line x1="332.3" y1="257" x2="332.3" y2="264.4" stroke="#cfcfcf" stroke-width="0.9"/>
<polygon points="331,263.6 333.6,263.6 332.3,266" fill="#353535"/>
<text x="332.3" y="255.6" font-size="3.7" text-anchor="middle" fill="#3a3a3a" stroke="#3a3a3a" stroke-width="0.18">PO<tspan font-size="2.59" dy="1">4</tspan><tspan dy="-1"> BINDER</tspan></text>
<line x1="352.1" y1="274.3" x2="352.1" y2="280.4" stroke="#cfcfcf" stroke-width="0.9"/>
<polygon points="350.8,279.6 353.4,279.6 352.1,282" fill="#353535"/>
<text x="352.1" y="273" font-size="3.7" text-anchor="middle" fill="#3a3a3a" font-weight="normal" stroke="#3a3a3a" stroke-width="0.18">CALCITRIOL</text>
<line x1="372" y1="290" x2="372" y2="299.2" stroke="#cfcfcf" stroke-width="0.9"/>
<polygon points="370.7,298.4 373.3,298.4 372,300.8" fill="#353535"/>
<text x="372" y="288.8" font-size="3.7" text-anchor="middle" fill="#3a3a3a" font-weight="normal" stroke="#3a3a3a" stroke-width="0.18">CALCIMIMETIC</text>
<rect x="405.3" y="232.2" width="32.3" height="11.4" fill="#fff" stroke="#d0d0d0" stroke-width="0.6"/>
<line x1="406.5" y1="235.3" x2="413.9" y2="235.3" stroke="#5cbbe7" stroke-width="1.3"/>
<text x="415" y="236.8" font-size="4.4" text-anchor="start" fill="#404040" font-weight="normal" stroke="#404040" stroke-width="0.18">Osteoblast</text>
<line x1="406.5" y1="240.7" x2="413.9" y2="240.7" stroke="#fa9574" stroke-width="1.3"/>
<text x="415" y="242.2" font-size="4.4" text-anchor="start" fill="#404040" font-weight="normal" stroke="#404040" stroke-width="0.18">Osteoclast</text>
<text x="486.8" y="218.9" font-size="15" text-anchor="start" fill="#111" font-weight="bold">(f)</text>
<rect x="515.5" y="230.4" width="153" height="128.9" fill="none" stroke="#dedede" stroke-width="1"/>
<line x1="515.5" y1="359.3" x2="515.5" y2="357.3" stroke="#c4c4c4" stroke-width="0.6"/>
<line x1="515.5" y1="230.4" x2="515.5" y2="232.4" stroke="#c4c4c4" stroke-width="0.6"/>
<text x="515.5" y="363.9" font-size="3.6" text-anchor="middle" fill="#7c7c7c" font-weight="normal" stroke="#7c7c7c" stroke-width="0.18">0</text>
<line x1="532.5" y1="359.3" x2="532.5" y2="357.3" stroke="#c4c4c4" stroke-width="0.6"/>
<line x1="532.5" y1="230.4" x2="532.5" y2="232.4" stroke="#c4c4c4" stroke-width="0.6"/>
<text x="532.5" y="363.9" font-size="3.6" text-anchor="middle" fill="#7c7c7c" font-weight="normal" stroke="#7c7c7c" stroke-width="0.18">5</text>
<line x1="549.5" y1="359.3" x2="549.5" y2="357.3" stroke="#c4c4c4" stroke-width="0.6"/>
<line x1="549.5" y1="230.4" x2="549.5" y2="232.4" stroke="#c4c4c4" stroke-width="0.6"/>
<text x="549.5" y="363.9" font-size="3.6" text-anchor="middle" fill="#7c7c7c" font-weight="normal" stroke="#7c7c7c" stroke-width="0.18">10</text>
<line x1="566.5" y1="359.3" x2="566.5" y2="357.3" stroke="#c4c4c4" stroke-width="0.6"/>
<line x1="566.5" y1="230.4" x2="566.5" y2="232.4" stroke="#c4c4c4" stroke-width="0.6"/>
<text x="566.5" y="363.9" font-size="3.6" text-anchor="middle" fill="#7c7c7c" font-weight="normal" stroke="#7c7c7c" stroke-width="0.18">15</text>
<line x1="583.5" y1="359.3" x2="583.5" y2="357.3" stroke="#c4c4c4" stroke-width="0.6"/>
<line x1="583.5" y1="230.4" x2="583.5" y2="232.4" stroke="#c4c4c4" stroke-width="0.6"/>
<text x="583.5" y="363.9" font-size="3.6" text-anchor="middle" fill="#7c7c7c" font-weight="normal" stroke="#7c7c7c" stroke-width="0.18">20</text>
<line x1="600.5" y1="359.3" x2="600.5" y2="357.3" stroke="#c4c4c4" stroke-width="0.6"/>
<line x1="600.5" y1="230.4" x2="600.5" y2="232.4" stroke="#c4c4c4" stroke-width="0.6"/>
<text x="600.5" y="363.9" font-size="3.6" text-anchor="middle" fill="#7c7c7c" font-weight="normal" stroke="#7c7c7c" stroke-width="0.18">25</text>
<line x1="617.5" y1="359.3" x2="617.5" y2="357.3" stroke="#c4c4c4" stroke-width="0.6"/>
<line x1="617.5" y1="230.4" x2="617.5" y2="232.4" stroke="#c4c4c4" stroke-width="0.6"/>
<text x="617.5" y="363.9" font-size="3.6" text-anchor="middle" fill="#7c7c7c" font-weight="normal" stroke="#7c7c7c" stroke-width="0.18">30</text>
<line x1="634.5" y1="359.3" x2="634.5" y2="357.3" stroke="#c4c4c4" stroke-width="0.6"/>
<line x1="634.5" y1="230.4" x2="634.5" y2="232.4" stroke="#c4c4c4" stroke-width="0.6"/>
<text x="634.5" y="363.9" font-size="3.6" text-anchor="middle" fill="#7c7c7c" font-weight="normal" stroke="#7c7c7c" stroke-width="0.18">35</text>
<line x1="651.5" y1="359.3" x2="651.5" y2="357.3" stroke="#c4c4c4" stroke-width="0.6"/>
<line x1="651.5" y1="230.4" x2="651.5" y2="232.4" stroke="#c4c4c4" stroke-width="0.6"/>
<text x="651.5" y="363.9" font-size="3.6" text-anchor="middle" fill="#7c7c7c" font-weight="normal" stroke="#7c7c7c" stroke-width="0.18">40</text>
<line x1="668.5" y1="359.3" x2="668.5" y2="357.3" stroke="#c4c4c4" stroke-width="0.6"/>
<line x1="668.5" y1="230.4" x2="668.5" y2="232.4" stroke="#c4c4c4" stroke-width="0.6"/>
<text x="668.5" y="363.9" font-size="3.6" text-anchor="middle" fill="#7c7c7c" font-weight="normal" stroke="#7c7c7c" stroke-width="0.18">45</text>
<line x1="515.5" y1="230.4" x2="517.5" y2="230.4" stroke="#c4c4c4" stroke-width="0.6"/>
<line x1="668.5" y1="230.4" x2="666.5" y2="230.4" stroke="#c4c4c4" stroke-width="0.6"/>
<text x="514.5" y="231.8" font-size="3.6" text-anchor="end" fill="#7c7c7c" font-weight="normal" stroke="#7c7c7c" stroke-width="0.18"></text>
<line x1="515.5" y1="359.3" x2="517.5" y2="359.3" stroke="#c4c4c4" stroke-width="0.6"/>
<line x1="668.5" y1="359.3" x2="666.5" y2="359.3" stroke="#c4c4c4" stroke-width="0.6"/>
<text x="514.5" y="360.7" font-size="3.6" text-anchor="end" fill="#7c7c7c" font-weight="normal" stroke="#7c7c7c" stroke-width="0.18"></text>
<text x="592" y="370" font-size="5.3" text-anchor="middle" fill="#404040" font-weight="normal" stroke="#404040" stroke-width="0.08">Time (months)</text>
<text x="507.6" y="294.85" font-size="5.3" text-anchor="middle" fill="#404040" font-weight="normal" transform="rotate(-90 507.6 294.85)" stroke="#404040" stroke-width="0.08">Ca flux (mmol/hr)</text>
<polyline points="515.5,276.3 541.4,276.3 541.8,278 542.1,289.5 542.9,291.3 544,291.4 562,291.8 562.4,293 562.7,297.8 563.5,298.9 565,299.1 582.5,300.4 582.9,305 583.3,316.8 584,318.6 585,319.8 592.6,321.8 600,323.4 602.3,324 603.5,325.3 605.3,326.6 607.5,327.6 610.6,328.4 616,329.3 622.6,329.9 630,330.1 637.7,330.1 647,329.6 656.9,328.8" fill="none" stroke="#5cbbe7" stroke-width="1.3" stroke-linejoin="round" stroke-linecap="round"/>
<polyline points="515.5,295.6 541.4,295.6 541.8,297.5 542.1,310.5 542.9,312.3 544,312.4 562,312.6 562.4,314 562.7,318.8 563.5,319.9 565,320.1 582.6,321.2 583,316.9 583.4,320 585,323.2 592.6,325 600,326.3 602.3,326.9 604,328.2 606.1,329.6 610.6,330.9 616,331.6 622.6,332.2 630,332.5 637.7,332.5 647,332.2 656.9,331.3" fill="none" stroke="#fa9574" stroke-width="1.25" stroke-linejoin="round" stroke-linecap="round"/>
<line x1="541.2" y1="242.2" x2="541.2" y2="267.3" stroke="#cfcfcf" stroke-width="0.9"/>
<polygon points="539.9,266.5 542.5,266.5 541.2,268.9" fill="#353535"/>
<text x="541.2" y="241.1" font-size="3.7" text-anchor="middle" fill="#3a3a3a" font-weight="normal" stroke="#3a3a3a" stroke-width="0.18">DIALYSIS</text>
<line x1="562.6" y1="256.8" x2="562.6" y2="284.6" stroke="#cfcfcf" stroke-width="0.9"/>
<polygon points="561.3,283.8 563.9,283.8 562.6,286.2" fill="#353535"/>
<text x="562.6" y="255.5" font-size="3.7" text-anchor="middle" fill="#3a3a3a" stroke="#3a3a3a" stroke-width="0.18">PO<tspan font-size="2.59" dy="1">4</tspan><tspan dy="-1"> BINDER</tspan></text>
<line x1="582.5" y1="274" x2="582.5" y2="296.2" stroke="#cfcfcf" stroke-width="0.9"/>
<polygon points="581.2,295.4 583.8,295.4 582.5,297.8" fill="#353535"/>
<text x="582.5" y="272.8" font-size="3.7" text-anchor="middle" fill="#3a3a3a" font-weight="normal" stroke="#3a3a3a" stroke-width="0.18">CALCITRIOL</text>
<line x1="602.1" y1="289.7" x2="602.1" y2="320.2" stroke="#cfcfcf" stroke-width="0.9"/>
<polygon points="600.8,319.4 603.4,319.4 602.1,321.8" fill="#353535"/>
<text x="602.1" y="288.5" font-size="3.7" text-anchor="middle" fill="#3a3a3a" font-weight="normal" stroke="#3a3a3a" stroke-width="0.18">CALCIMIMETIC</text>
<rect x="625.2" y="232.2" width="41.3" height="11.4" fill="#fff" stroke="#d0d0d0" stroke-width="0.6"/>
<line x1="626.4" y1="235.4" x2="633.8" y2="235.4" stroke="#5cbbe7" stroke-width="1.3"/>
<text x="634.9" y="236.9" font-size="4.4" text-anchor="start" fill="#404040" font-weight="normal" stroke="#404040" stroke-width="0.18">Bone Ca flux</text>
<line x1="626.4" y1="240.7" x2="633.8" y2="240.7" stroke="#fa9574" stroke-width="1.3"/>
<text x="634.9" y="242.2" font-size="4.4" text-anchor="start" fill="#404040" font-weight="normal" stroke="#404040" stroke-width="0.18">Vascular Ca flux</text>
<line x1="515.5" y1="230.4" x2="517.5" y2="230.4" stroke="#c4c4c4" stroke-width="0.6"/>
<line x1="668.5" y1="230.4" x2="666.5" y2="230.4" stroke="#c4c4c4" stroke-width="0.6"/>
<text x="514.5" y="231.8" font-size="3.6" text-anchor="end" fill="#7c7c7c" font-weight="normal" stroke="#7c7c7c" stroke-width="0.18">2</text>
<line x1="515.5" y1="273.37" x2="517.5" y2="273.37" stroke="#c4c4c4" stroke-width="0.6"/>
<line x1="668.5" y1="273.37" x2="666.5" y2="273.37" stroke="#c4c4c4" stroke-width="0.6"/>
<text x="514.5" y="274.77" font-size="3.6" text-anchor="end" fill="#7c7c7c" font-weight="normal" stroke="#7c7c7c" stroke-width="0.18">1.5</text>
<line x1="515.5" y1="316.33" x2="517.5" y2="316.33" stroke="#c4c4c4" stroke-width="0.6"/>
<line x1="668.5" y1="316.33" x2="666.5" y2="316.33" stroke="#c4c4c4" stroke-width="0.6"/>
<text x="514.5" y="317.73" font-size="3.6" text-anchor="end" fill="#7c7c7c" font-weight="normal" stroke="#7c7c7c" stroke-width="0.18">1</text>
<line x1="515.5" y1="359.3" x2="517.5" y2="359.3" stroke="#c4c4c4" stroke-width="0.6"/>
<line x1="668.5" y1="359.3" x2="666.5" y2="359.3" stroke="#c4c4c4" stroke-width="0.6"/>
<text x="514.5" y="360.7" font-size="3.6" text-anchor="end" fill="#7c7c7c" font-weight="normal" stroke="#7c7c7c" stroke-width="0.18">0.5</text>
<rect x="239" y="0" width="1" height="399" fill="#e8e8e8"/>
<rect x="470" y="0" width="1" height="399" fill="#f2f2f2"/>
<rect x="476" y="0" width="1" height="399" fill="#f2f2f2"/>
<rect x="0" y="202" width="709" height="1" fill="#f0f0f0"/>
<rect x="233.6" y="0" width="4.9" height="399" fill="#383838"/>
<rect x="471.45" y="0" width="4.2" height="399" fill="#383838"/>
<rect x="0" y="196.8" width="709" height="4.7" fill="#383838"/>
</svg>
</body></html>
